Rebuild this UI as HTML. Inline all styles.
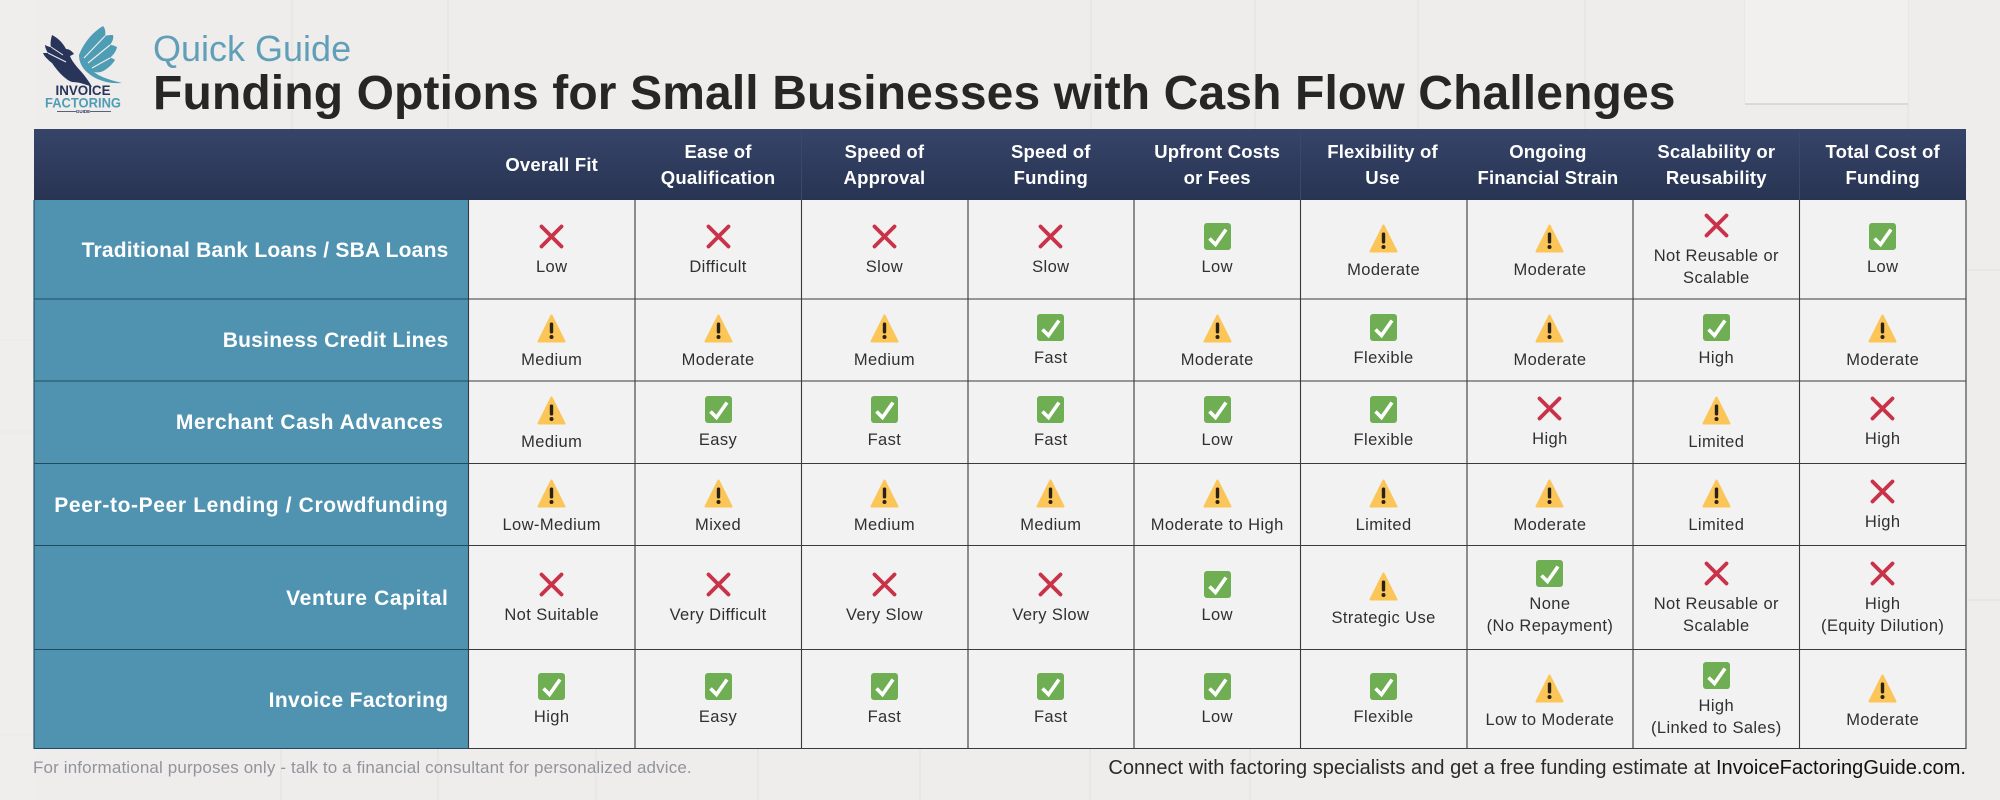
<!DOCTYPE html>
<html lang="en">
<head>
<meta charset="utf-8">
<title>Funding Options for Small Businesses with Cash Flow Challenges</title>
<style>
html,body{margin:0;padding:0}
body{width:2000px;height:800px;overflow:hidden;position:relative;background:#eeedeb;font-family:"Liberation Sans",sans-serif}
.abs{position:absolute}
#tiles{left:0;top:0}
#quick{left:153px;top:27px;font-size:36px;line-height:44px;color:#619fb9;white-space:nowrap}
#title{left:153px;top:65.500px;font-size:48px;line-height:56px;font-weight:700;color:#262626;letter-spacing:.125px;white-space:nowrap}
#grid{left:34px;top:129px;width:1932px;height:620px;display:grid;grid-template-columns:434.5px repeat(9,166.39px);grid-template-rows:71px 99px 82px 82.5px 82px 104.5px 99px}
.hd{background:linear-gradient(#364469,#283452);color:#fff;font-weight:700;font-size:18.5px;line-height:26px;letter-spacing:.2px;text-align:center;display:flex;align-items:center;justify-content:center;padding-top:1px;box-sizing:border-box}
.lab{background:#4f93b0;color:#fff;font-weight:700;font-size:21px;letter-spacing:.21px;display:flex;align-items:center;justify-content:flex-end;padding:2px 20px 0 0;box-sizing:border-box;white-space:nowrap}
.cell{background:#f2f2f2;display:flex;flex-direction:column;align-items:center;justify-content:center;padding-top:2px;box-sizing:border-box;color:#303030;font-size:16.5px;line-height:22px;letter-spacing:.4px;text-align:center}
.ic{display:block;flex:none}
.ck{width:27px;height:27px;margin-bottom:6px}
.xx{width:25px;height:25px;margin-bottom:7px}
.wn{width:29px;height:29px;margin-top:3px;margin-bottom:6px}
#lines{left:0;top:0;pointer-events:none}
#note{left:33px;top:757px;font-size:17px;line-height:22px;letter-spacing:.14px;color:#92949d;white-space:nowrap}
#cta{right:34px;top:756px;font-size:20px;line-height:24px;letter-spacing:.04px;color:#2b2b2b;white-space:nowrap}
#cta b{font-weight:400;color:#111}
</style>
</head>
<body>
<svg width="0" height="0" style="position:absolute">
  <symbol id="i-ck" viewBox="0 0 27 27"><rect width="27" height="27" rx="3" fill="#6fae53"/><path d="M5.500 15.500L11.500 21.500L22 6.500" fill="none" stroke="#fff" stroke-width="3.600"/></symbol>
  <symbol id="i-xx" viewBox="0 0 25 25"><path d="M2.500 2.500L22.500 22.500M22.500 2.500L2.500 22.500" fill="none" stroke="#c8334a" stroke-width="3.800" stroke-linecap="round"/></symbol>
  <symbol id="i-wn" viewBox="0 0 29 29"><path d="M14.500 1.500L27.500 27.500H1.500Z" fill="#fcc557" stroke="#fcc557" stroke-width="2" stroke-linejoin="round"/><rect x="12.800" y="8.500" width="3.400" height="11" rx="1.500" fill="#2a2218"/><circle cx="14.500" cy="23" r="2" fill="#2a2218"/></symbol>
</svg>

<svg id="tiles" class="abs" width="2000" height="800">
  <g stroke="#e6e5e2" stroke-width="1.500" fill="none">
    <path d="M292 0V129M448 0V129M1091 0V129M1255 0V129M1418 0V129M1585 0V129M1745 0V103M1908 0V129"/>
    <path d="M281 749V800M438 749V800M596 749V800M758 749V800M920 749V800M1090 749V800M1250 749V800"/>
    <path d="M0 340H33M0 432H33M0 735H33M1967 270H2000M1967 600H2000"/>
  </g>
  <path d="M1745 104H1908" stroke="#dad9d6" stroke-width="2"/>
  <rect x="1745" y="0" width="163" height="103" fill="#f1f0ee"/>
  <rect x="0" y="0" width="34" height="800" fill="#f0efed" opacity=".6"/>
</svg>

<svg class="abs" style="left:40px;top:22px" width="90" height="96" viewBox="40 22 90 96">
  <path d="M79 55C84 42 93 32 103 26C105 28 106 32 105 36C108 35 111 35 113 35C114 39 112 42 110 45C113 45 115 46 117 47C116 52 113 55 110 58C112 58 114 59 115 60C112 65 108 68 105 70C102 72 98 73 94 72C100 77 110 80 122 83C108 84 96 80 88 73C82 68 79 62 79 55Z" fill="#4f9db5"/>
  <path d="M84 58L105 36M88 63L110 45M92 68L110 58" stroke="#eeedeb" stroke-width="1.200" fill="none"/>
  <path d="M52 35C58 38 63 43 66 49C69 49 72 51 74 54L70 56C72 62 78 68 84 75C87 79 90 83 92 87C85 84 78 82 72 82C66 80 58 72 52 63C48 60 44 56 43 53C45 53 47 53 48 53C46 50 45 47 45 45C47 46 49 47 51 47C50 43 51 39 52 35Z" fill="#28345a"/>
  <path d="M66 62L48 53M63 55L51 47" stroke="#eeedeb" stroke-width="1" fill="none"/>
  <text x="83" y="95" text-anchor="middle" font-family="Liberation Sans" font-weight="700" font-size="14" textLength="55" lengthAdjust="spacingAndGlyphs" fill="#28345a">INVOICE</text>
  <text x="83" y="107.500" text-anchor="middle" font-family="Liberation Sans" font-weight="700" font-size="14" textLength="76" lengthAdjust="spacingAndGlyphs" fill="#4f9db5">FACTORING</text>
  <text x="83" y="113" text-anchor="middle" font-family="Liberation Sans" font-weight="700" font-size="4.500" fill="#28345a">GUIDE</text>
  <path d="M57 111.500H76M90 111.500H111" stroke="#28345a" stroke-width=".8"/>
</svg>

<div id="quick" class="abs">Quick Guide</div>
<div id="title" class="abs">Funding Options for Small Businesses with Cash Flow Challenges</div>

<div id="grid" class="abs">
  <div class="hd"></div>
  <div class="hd">Overall Fit</div>
  <div class="hd">Ease of<br>Qualification</div>
  <div class="hd">Speed of<br>Approval</div>
  <div class="hd">Speed of<br>Funding</div>
  <div class="hd">Upfront Costs<br>or Fees</div>
  <div class="hd" style="padding-right:2px">Flexibility of<br>Use</div>
  <div class="hd" style="padding-right:4px">Ongoing<br>Financial Strain</div>
  <div class="hd">Scalability or<br>Reusability</div>
  <div class="hd">Total Cost of<br>Funding</div>

  <div class="lab">Traditional Bank Loans / SBA Loans</div>
  <div class="cell"><svg class="ic xx"><use href="#i-xx"/></svg>Low</div>
  <div class="cell"><svg class="ic xx"><use href="#i-xx"/></svg>Difficult</div>
  <div class="cell"><svg class="ic xx"><use href="#i-xx"/></svg>Slow</div>
  <div class="cell"><svg class="ic xx"><use href="#i-xx"/></svg>Slow</div>
  <div class="cell"><svg class="ic ck"><use href="#i-ck"/></svg>Low</div>
  <div class="cell"><svg class="ic wn"><use href="#i-wn"/></svg>Moderate</div>
  <div class="cell"><svg class="ic wn"><use href="#i-wn"/></svg>Moderate</div>
  <div class="cell"><svg class="ic xx"><use href="#i-xx"/></svg>Not Reusable or<br>Scalable</div>
  <div class="cell"><svg class="ic ck"><use href="#i-ck"/></svg>Low</div>

  <div class="lab" style="letter-spacing:.25px">Business Credit Lines</div>
  <div class="cell"><svg class="ic wn"><use href="#i-wn"/></svg>Medium</div>
  <div class="cell"><svg class="ic wn"><use href="#i-wn"/></svg>Moderate</div>
  <div class="cell"><svg class="ic wn"><use href="#i-wn"/></svg>Medium</div>
  <div class="cell"><svg class="ic ck"><use href="#i-ck"/></svg>Fast</div>
  <div class="cell"><svg class="ic wn"><use href="#i-wn"/></svg>Moderate</div>
  <div class="cell"><svg class="ic ck"><use href="#i-ck"/></svg>Flexible</div>
  <div class="cell"><svg class="ic wn"><use href="#i-wn"/></svg>Moderate</div>
  <div class="cell"><svg class="ic ck"><use href="#i-ck"/></svg>High</div>
  <div class="cell"><svg class="ic wn"><use href="#i-wn"/></svg>Moderate</div>

  <div class="lab" style="padding-right:25px;letter-spacing:.58px">Merchant Cash Advances</div>
  <div class="cell"><svg class="ic wn"><use href="#i-wn"/></svg>Medium</div>
  <div class="cell"><svg class="ic ck"><use href="#i-ck"/></svg>Easy</div>
  <div class="cell"><svg class="ic ck"><use href="#i-ck"/></svg>Fast</div>
  <div class="cell"><svg class="ic ck"><use href="#i-ck"/></svg>Fast</div>
  <div class="cell"><svg class="ic ck"><use href="#i-ck"/></svg>Low</div>
  <div class="cell"><svg class="ic ck"><use href="#i-ck"/></svg>Flexible</div>
  <div class="cell"><svg class="ic xx"><use href="#i-xx"/></svg>High</div>
  <div class="cell"><svg class="ic wn"><use href="#i-wn"/></svg>Limited</div>
  <div class="cell"><svg class="ic xx"><use href="#i-xx"/></svg>High</div>

  <div class="lab" style="letter-spacing:.63px">Peer-to-Peer Lending / Crowdfunding</div>
  <div class="cell"><svg class="ic wn"><use href="#i-wn"/></svg>Low-Medium</div>
  <div class="cell"><svg class="ic wn"><use href="#i-wn"/></svg>Mixed</div>
  <div class="cell"><svg class="ic wn"><use href="#i-wn"/></svg>Medium</div>
  <div class="cell"><svg class="ic wn"><use href="#i-wn"/></svg>Medium</div>
  <div class="cell"><svg class="ic wn"><use href="#i-wn"/></svg>Moderate to High</div>
  <div class="cell"><svg class="ic wn"><use href="#i-wn"/></svg>Limited</div>
  <div class="cell"><svg class="ic wn"><use href="#i-wn"/></svg>Moderate</div>
  <div class="cell"><svg class="ic wn"><use href="#i-wn"/></svg>Limited</div>
  <div class="cell"><svg class="ic xx"><use href="#i-xx"/></svg>High</div>

  <div class="lab" style="letter-spacing:.63px">Venture Capital</div>
  <div class="cell"><svg class="ic xx"><use href="#i-xx"/></svg>Not Suitable</div>
  <div class="cell"><svg class="ic xx"><use href="#i-xx"/></svg>Very Difficult</div>
  <div class="cell"><svg class="ic xx"><use href="#i-xx"/></svg>Very Slow</div>
  <div class="cell"><svg class="ic xx"><use href="#i-xx"/></svg>Very Slow</div>
  <div class="cell"><svg class="ic ck"><use href="#i-ck"/></svg>Low</div>
  <div class="cell"><svg class="ic wn"><use href="#i-wn"/></svg>Strategic Use</div>
  <div class="cell"><svg class="ic ck"><use href="#i-ck"/></svg>None<br>(No Repayment)</div>
  <div class="cell"><svg class="ic xx"><use href="#i-xx"/></svg>Not Reusable or<br>Scalable</div>
  <div class="cell"><svg class="ic xx"><use href="#i-xx"/></svg>High<br>(Equity Dilution)</div>

  <div class="lab" style="letter-spacing:.35px">Invoice Factoring</div>
  <div class="cell"><svg class="ic ck"><use href="#i-ck"/></svg>High</div>
  <div class="cell"><svg class="ic ck"><use href="#i-ck"/></svg>Easy</div>
  <div class="cell"><svg class="ic ck"><use href="#i-ck"/></svg>Fast</div>
  <div class="cell"><svg class="ic ck"><use href="#i-ck"/></svg>Fast</div>
  <div class="cell"><svg class="ic ck"><use href="#i-ck"/></svg>Low</div>
  <div class="cell"><svg class="ic ck"><use href="#i-ck"/></svg>Flexible</div>
  <div class="cell"><svg class="ic wn"><use href="#i-wn"/></svg>Low to Moderate</div>
  <div class="cell"><svg class="ic ck"><use href="#i-ck"/></svg>High<br>(Linked to Sales)</div>
  <div class="cell"><svg class="ic wn"><use href="#i-wn"/></svg>Moderate</div>
</div>

<svg id="lines" class="abs" width="2000" height="800">
  <g stroke="#1f4a5f" stroke-width="1.100" fill="none">
    <path d="M34 200V749M34 299H468.500M34 381H468.500M34 463.500H468.500M34 545.500H468.500M34 649.500H468.500M34 748.500H468.500"/>
  </g>
  <g stroke="#3a3a3a" stroke-width="1.100" fill="none">
    <path d="M468.500 200V749M635 200V749M801.500 200V749M968 200V749M1134 200V749M1300.500 200V749M1467 200V749M1633 200V749M1799.500 200V749M1966 200V749"/>
    <path d="M468.500 299H1966M468.500 381H1966M468.500 463.500H1966M468.500 545.500H1966M468.500 649.500H1966M468.500 748.500H1966"/>
  </g>
  <path d="M801.500 130V200M1300.500 130V200M1799.500 130V200" stroke="#3b4869" stroke-width="1" fill="none"/>
</svg>

<div id="note" class="abs">For informational purposes only - talk to a financial consultant for personalized advice.</div>
<div id="cta" class="abs">Connect with factoring specialists and get a free funding estimate at <b>InvoiceFactoringGuide.com.</b></div>
</body>
</html>
